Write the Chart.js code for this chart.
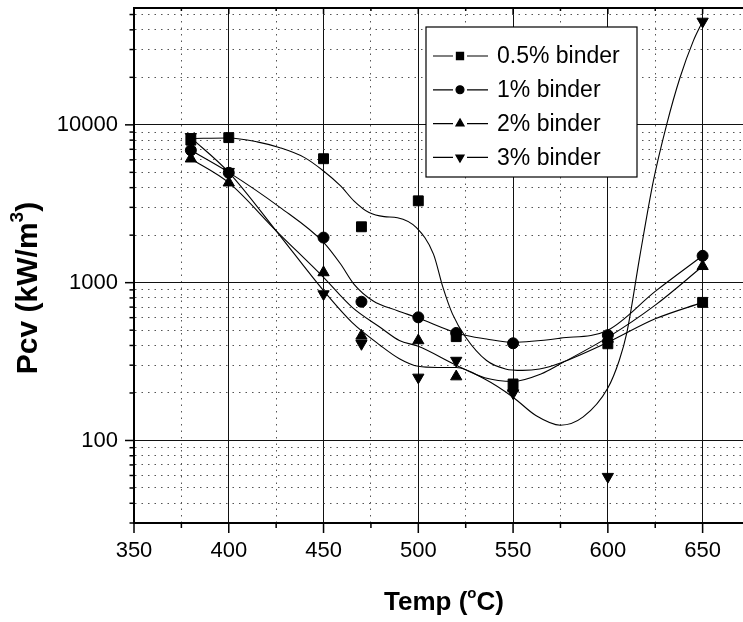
<!DOCTYPE html>
<html>
<head>
<meta charset="utf-8">
<title>Pcv vs Temp</title>
<script src="https://cdn.jsdelivr.net/npm/chart.js"></script>
<style>
    html, body { margin: 0; padding: 0; background: #fff; overflow: hidden; }
    #wrap { width: 760px; height: 622px; }
</style>
</head>
<body>
<div id="wrap"><canvas id="chart" width="760" height="622"></canvas></div>
<script>
// Datos
const TEMPS = [380, 400, 450, 470, 500, 520, 550, 600, 650];
const PCV_05 = [8000, 8300, 6100, 2260, 3300, 455, 228, 410, 750];
const PCV_1 = [6900, 4970, 1930, 757, 603, 480, 413, 465, 1480];
const PCV_2 = [6100, 4300, 1160, 460, 430, 254, 215, 440, 1270];
const PCV_3 = [8400, 5050, 847, 410, 251, 321, 200, 59, 45200];

// Curvas de ajuste (trazadas a ojo sobre la figura)
const FIT_X_05 = [380, 400, 415, 427, 440, 450, 459, 466, 474, 482, 489, 499, 508, 513, 518, 525, 536, 546, 555, 564, 575, 600, 625, 650];
const FIT_05 = [8200, 8250, 7800, 7160, 6200, 5100, 4100, 3300, 2780, 2620, 2580, 2230, 1517, 933, 634, 451, 321, 284, 278, 284, 310, 419, 590, 750];
const FIT_X_1 = [380, 400, 427, 450, 459, 466, 476, 489, 499, 522, 536, 550, 575, 600, 625, 650];
const FIT_1 = [6900, 5000, 3000, 1800, 1312, 980, 769, 664, 603, 473, 440, 419, 445, 500, 880, 1480];
const FIT_X_2 = [380, 400, 425, 450, 465, 480, 490, 500, 520, 535, 550, 565, 575, 600, 625, 650];
const FIT_2 = [6100, 4300, 2130, 1080, 700, 520, 430, 395, 300, 250, 237, 265, 306, 450, 720, 1270];
const FIT_X_3 = [380, 400, 425, 450, 465, 480, 490, 500, 510, 520, 535, 550, 562, 575, 587, 600, 606, 610, 617, 624, 631, 638, 645, 650];
const FIT_3 = [8300, 5000, 2130, 890, 560, 400, 330, 295, 290, 290, 245, 188, 144, 125, 141, 215, 321, 480, 1500, 4400, 10000, 19800, 33800, 45200];

const SERIES = ['0.5% binder', '1% binder', '2% binder', '3% binder'];

// Ejes
const X_MAJOR = [350, 400, 450, 500, 550, 600, 650];
const X_MINOR = [375, 425, 475, 525, 575, 625];
const Y_MAJOR = [100, 1000, 10000];
const Y_MINOR = [30, 40, 50, 60, 70, 80, 90, 200, 300, 400, 500, 600, 700, 800, 900,
    2000, 3000, 4000, 5000, 6000, 7000, 8000, 9000, 20000, 30000, 40000, 50000];

const FONT = '"Liberation Sans", Arial, sans-serif';

const MARKERS = [
    { style: 'rect', radius: 7, rotation: 0 },
    { style: 'circle', radius: 5.5, rotation: 0 },
    { style: 'triangle', radius: 6.5, rotation: 0 },
    { style: 'triangle', radius: 6.5, rotation: 180 },
];

function toPoints(xs, ys) {
    return xs.map((x, i) => ({ x: x, y: ys[i] }));
}

function fitDataset(xs, ys) {
    return {
        data: toPoints(xs, ys),
        borderColor: '#000',
        borderWidth: 1.1,
        pointRadius: 0,
        fill: false,
        cubicInterpolationMode: 'monotone',
        showLine: true,
    };
}

function markerDataset(label, ys, m) {
    return {
        label: label,
        data: toPoints(TEMPS, ys),
        showLine: false,
        pointStyle: m.style,
        pointRadius: m.radius,
        pointRotation: m.rotation,
        pointBackgroundColor: '#000',
        pointBorderColor: '#000',
        pointBorderWidth: 1,
    };
}

function isMajorX(v) { return X_MAJOR.includes(v); }
function isMajorY(v) { return Y_MAJOR.includes(v); }

// Texto con superíndice
function drawRich(ctx, parts, x, y) {
    let total = 0;
    parts.forEach(p => {
        ctx.font = 'bold ' + p.size + 'px ' + FONT;
        p.w = ctx.measureText(p.t).width;
        total += p.w;
    });
    let cx = x - total / 2;
    ctx.textAlign = 'left';
    ctx.textBaseline = 'alphabetic';
    parts.forEach(p => {
        ctx.font = 'bold ' + p.size + 'px ' + FONT;
        ctx.fillText(p.t, cx, y + p.dy);
        cx += p.w;
    });
}

const framePlugin = {
    id: 'frame',
    afterDraw(chart) {
        const ctx = chart.ctx;
        const area = chart.chartArea;
        const xs = chart.scales.x;
        const ys = chart.scales.y;
        ctx.save();
        ctx.strokeStyle = '#000';

        // borde superior
        ctx.lineWidth = 2;
        ctx.beginPath();
        ctx.moveTo(area.left, area.top);
        ctx.lineTo(area.right, area.top);
        ctx.stroke();

        // marcas de los ejes
        ctx.lineWidth = 1.5;
        xs.ticks.forEach(t => {
            const px = xs.getPixelForValue(t.value);
            const major = isMajorX(t.value);
            ctx.beginPath();
            ctx.moveTo(px, area.bottom);
            ctx.lineTo(px, area.bottom + (major ? 10 : 5));
            ctx.moveTo(px, area.top);
            ctx.lineTo(px, area.top + (major ? 6 : 3));
            ctx.stroke();
        });
        ys.ticks.forEach(t => {
            const py = ys.getPixelForValue(t.value);
            const major = isMajorY(t.value);
            ctx.beginPath();
            ctx.moveTo(area.left, py);
            ctx.lineTo(area.left - (major ? 9 : 4.5), py);
            ctx.stroke();
        });

        // títulos de los ejes
        ctx.fillStyle = '#000';
        drawRich(ctx, [
            { t: 'Temp (', size: 26, dy: 0 },
            { t: 'o', size: 15, dy: -12 },
            { t: 'C)', size: 26, dy: 0 },
        ], 444, 610);

        ctx.save();
        ctx.translate(37, 288);
        ctx.rotate(-Math.PI / 2);
        drawRich(ctx, [
            { t: 'Pcv (kW/m', size: 30, dy: 0 },
            { t: '3', size: 19, dy: -14 },
            { t: ')', size: 30, dy: 0 },
        ], 0, 0);
        ctx.restore();

        // leyenda
        const box = { x: 426, y: 27, w: 211, h: 150 };
        ctx.fillStyle = '#fff';
        ctx.fillRect(box.x, box.y, box.w, box.h);
        ctx.lineWidth = 1.2;
        ctx.strokeRect(box.x, box.y, box.w, box.h);
        SERIES.forEach((name, i) => {
            const rowY = 56 + i * 33.8;
            const m = MARKERS[i];
            ctx.lineWidth = 1.2;
            ctx.beginPath();
            ctx.moveTo(433, rowY);
            ctx.lineTo(453, rowY);
            ctx.moveTo(467, rowY);
            ctx.lineTo(488, rowY);
            ctx.stroke();
            ctx.fillStyle = '#000';
            Chart.helpers.drawPoint(ctx, {
                pointStyle: m.style,
                radius: m.radius * 0.72,
                rotation: m.rotation,
                borderWidth: 1,
            }, 460, rowY);
            ctx.font = '23px ' + FONT;
            ctx.textAlign = 'left';
            ctx.textBaseline = 'middle';
            ctx.fillText(name, 497, rowY + 1);
        });
        ctx.restore();
    }
};

new Chart(document.getElementById('chart'), {
    type: 'scatter',
    data: {
        datasets: [
            fitDataset(FIT_X_05, FIT_05),
            fitDataset(FIT_X_1, FIT_1),
            fitDataset(FIT_X_2, FIT_2),
            fitDataset(FIT_X_3, FIT_3),
            markerDataset(SERIES[0], PCV_05, MARKERS[0]),
            markerDataset(SERIES[1], PCV_1, MARKERS[1]),
            markerDataset(SERIES[2], PCV_2, MARKERS[2]),
            markerDataset(SERIES[3], PCV_3, MARKERS[3]),
        ]
    },
    options: {
        responsive: false,
        animation: false,
        devicePixelRatio: 1,
        layout: { padding: { top: 7, right: 10, bottom: 0, left: 0 } },
        plugins: {
            legend: { display: false },
            tooltip: { enabled: false },
        },
        scales: {
            x: {
                type: 'linear',
                min: 350,
                max: 675,
                afterBuildTicks: s => {
                    s.ticks = X_MAJOR.concat(X_MINOR).sort((a, b) => a - b).map(v => ({ value: v }));
                },
                afterFit: s => {
                    s.height = 99;
                    s.paddingLeft = 0;
                    s.paddingRight = 0;
                },
                ticks: {
                    callback: v => isMajorX(v) ? String(v) : '',
                    font: { family: FONT, size: 22 },
                    color: '#000',
                    padding: 15,
                    maxRotation: 0,
                    autoSkip: false,
                },
                grid: {
                    drawTicks: false,
                    lineWidth: 1,
                    color: ctx => (ctx.tick && isMajorX(ctx.tick.value)) ? '#111' : '#555',
                },
                border: {
                    color: '#000',
                    width: 2,
                    dash: ctx => (ctx.tick && !isMajorX(ctx.tick.value)) ? [1.5, 5] : [],
                },
            },
            y: {
                type: 'logarithmic',
                min: 30,
                max: 55000,
                afterBuildTicks: s => {
                    s.ticks = Y_MAJOR.concat(Y_MINOR).sort((a, b) => a - b).map(v => ({ value: v }));
                },
                afterFit: s => {
                    s.width = 134;
                    s.paddingTop = 0;
                    s.paddingBottom = 0;
                },
                ticks: {
                    callback: v => isMajorY(v) ? String(v) : '',
                    font: { family: FONT, size: 22 },
                    color: '#000',
                    padding: 16,
                    autoSkip: false,
                },
                grid: {
                    drawTicks: false,
                    lineWidth: 1,
                    color: ctx => (ctx.tick && isMajorY(ctx.tick.value)) ? '#111' : '#555',
                },
                border: {
                    color: '#000',
                    width: 2,
                    dash: ctx => (ctx.tick && !isMajorY(ctx.tick.value)) ? [1.5, 5] : [],
                },
            }
        }
    },
    plugins: [framePlugin]
});
</script>
</body>
</html>
